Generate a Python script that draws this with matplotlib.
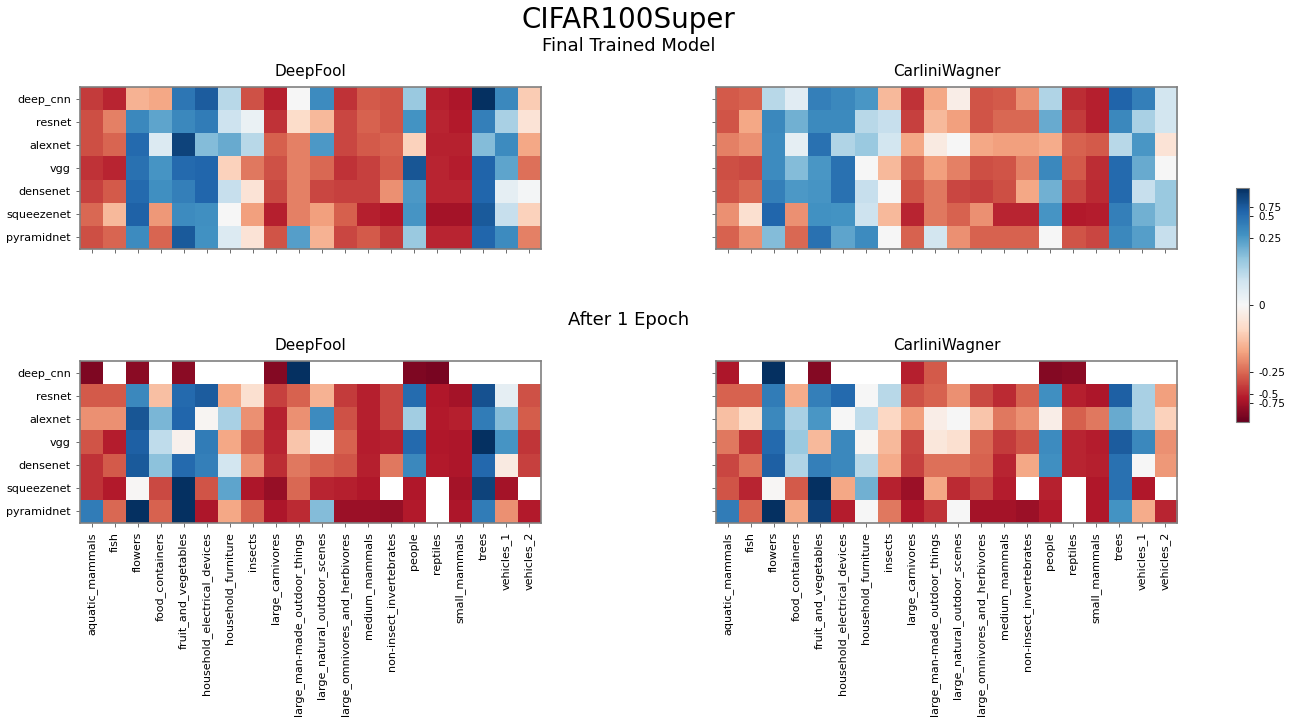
import numpy as np
import matplotlib
matplotlib.use("Agg")
import matplotlib.pyplot as plt
from matplotlib.colors import Normalize

nan = np.nan

models = ["deep_cnn", "resnet", "alexnet", "vgg", "densenet", "squeezenet", "pyramidnet"]
classes = ["aquatic_mammals", "fish", "flowers", "food_containers", "fruit_and_vegetables",
           "household_electrical_devices", "household_furniture", "insects", "large_carnivores",
           "large_man-made_outdoor_things", "large_natural_outdoor_scenes",
           "large_omnivores_and_herbivores", "medium_mammals", "non-insect_invertebrates",
           "people", "reptiles", "small_mammals", "trees", "vehicles_1", "vehicles_2"]

final_deepfool = [
    [-0.42, -0.50, -0.15, -0.17, 0.45, 0.72, 0.12, -0.33, -0.55, 0.00, 0.32, -0.45, -0.30, -0.32, 0.16, -0.55, -0.65, 1.00, 0.35, -0.11],
    [-0.35, -0.22, 0.35, 0.23, 0.35, 0.42, 0.09, 0.03, -0.45, -0.08, -0.14, -0.38, -0.27, -0.32, 0.28, -0.50, -0.60, 0.40, 0.14, -0.06],
    [-0.35, -0.26, 0.55, 0.06, 0.88, 0.19, 0.22, 0.12, -0.28, -0.22, 0.25, -0.38, -0.30, -0.27, -0.10, -0.53, -0.52, 0.19, 0.32, -0.17],
    [-0.45, -0.50, 0.48, 0.27, 0.55, 0.60, -0.10, -0.23, -0.33, -0.22, -0.25, -0.45, -0.40, -0.30, 0.78, -0.50, -0.58, 0.62, 0.23, -0.24],
    [-0.40, -0.30, 0.55, 0.30, 0.40, 0.60, 0.10, -0.06, -0.37, -0.22, -0.38, -0.40, -0.40, -0.20, 0.25, -0.50, -0.50, 0.60, 0.04, 0.01],
    [-0.25, -0.14, 0.65, -0.19, 0.32, 0.30, 0.00, -0.18, -0.55, -0.22, -0.18, -0.28, -0.55, -0.63, 0.27, -0.72, -0.72, 0.75, 0.10, -0.10],
    [-0.35, -0.26, 0.32, -0.26, 0.75, 0.29, 0.06, -0.06, -0.32, 0.24, -0.15, -0.38, -0.30, -0.42, 0.16, -0.50, -0.50, 0.60, 0.32, -0.22],
]

final_carlini = [
    [-0.30, -0.27, 0.12, 0.05, 0.40, 0.35, 0.26, -0.14, -0.45, -0.17, -0.03, -0.32, -0.30, -0.20, 0.13, -0.47, -0.55, 0.62, 0.40, 0.08],
    [-0.32, -0.17, 0.35, 0.21, 0.33, 0.33, 0.12, 0.10, -0.40, -0.14, -0.18, -0.32, -0.25, -0.25, 0.22, -0.42, -0.55, 0.35, 0.14, 0.08],
    [-0.22, -0.20, 0.32, 0.04, 0.48, 0.13, 0.16, 0.08, -0.17, -0.04, 0.00, -0.17, -0.18, -0.18, -0.16, -0.27, -0.30, 0.12, 0.26, -0.06],
    [-0.34, -0.37, 0.32, 0.19, 0.26, 0.48, 0.00, -0.14, -0.25, -0.18, -0.22, -0.35, -0.32, -0.22, 0.35, -0.30, -0.47, 0.55, 0.22, 0.00],
    [-0.32, -0.25, 0.40, 0.25, 0.27, 0.48, 0.10, 0.00, -0.32, -0.23, -0.38, -0.40, -0.35, -0.17, 0.21, -0.38, -0.48, 0.55, 0.10, 0.16],
    [-0.20, -0.07, 0.60, -0.20, 0.29, 0.28, 0.09, -0.14, -0.50, -0.23, -0.27, -0.20, -0.50, -0.50, 0.27, -0.60, -0.58, 0.40, 0.21, 0.16],
    [-0.27, -0.20, 0.19, -0.25, 0.48, 0.23, 0.32, 0.00, -0.27, 0.08, -0.20, -0.27, -0.27, -0.27, 0.00, -0.32, -0.38, 0.35, 0.24, 0.10],
]

epoch1_deepfool = [
    [-0.90, nan, -0.85, nan, -0.85, nan, nan, nan, -0.87, 1.00, nan, nan, nan, nan, -0.90, -0.92, nan, nan, nan, nan],
    [-0.30, -0.30, 0.35, -0.13, 0.55, 0.72, -0.17, -0.07, -0.40, -0.27, -0.15, -0.42, -0.55, -0.38, 0.52, -0.62, -0.72, 0.80, 0.04, -0.33],
    [-0.20, -0.20, 0.78, 0.20, 0.60, -0.01, 0.14, -0.20, -0.53, -0.20, 0.32, -0.33, -0.55, -0.38, 0.15, -0.60, -0.55, 0.42, 0.19, -0.29],
    [-0.32, -0.57, 0.67, 0.11, -0.02, 0.42, -0.17, -0.27, -0.50, -0.12, 0.00, -0.27, -0.58, -0.52, 0.55, -0.62, -0.66, 1.00, 0.27, -0.44],
    [-0.45, -0.30, 0.75, 0.18, 0.55, 0.40, 0.08, -0.20, -0.47, -0.23, -0.27, -0.32, -0.55, -0.23, 0.35, -0.60, -0.66, 0.58, -0.04, -0.40],
    [-0.45, -0.60, -0.005, -0.37, 1.00, -0.32, 0.23, -0.66, -0.80, -0.25, -0.50, -0.55, -0.62, nan, -0.62, nan, -0.74, 0.88, -0.74, nan],
    [0.42, -0.25, 1.00, -0.27, 1.00, -0.66, -0.17, -0.27, -0.66, -0.48, 0.19, -0.78, -0.78, -0.80, -0.60, nan, -0.66, 0.42, -0.20, -0.60],
]

epoch1_carlini = [
    [-0.66, nan, 1.00, nan, -0.87, nan, nan, nan, -0.55, -0.30, nan, nan, nan, nan, -0.87, -0.85, nan, nan, nan, nan],
    [-0.27, -0.27, 0.42, -0.16, 0.40, 0.55, 0.00, 0.12, -0.33, -0.27, -0.20, -0.37, -0.48, -0.27, 0.30, -0.55, -0.66, 0.67, 0.14, -0.18],
    [-0.13, -0.08, 0.35, 0.14, 0.26, 0.00, 0.11, -0.09, -0.18, -0.03, 0.00, -0.12, -0.23, -0.20, -0.03, -0.28, -0.23, 0.22, 0.14, -0.10],
    [-0.23, -0.45, 0.55, 0.16, -0.14, 0.35, -0.01, -0.14, -0.38, -0.05, -0.07, -0.25, -0.42, -0.32, 0.32, -0.50, -0.57, 0.72, 0.35, -0.20],
    [-0.38, -0.24, 0.67, 0.13, 0.40, 0.35, 0.12, -0.16, -0.40, -0.24, -0.24, -0.27, -0.50, -0.17, 0.30, -0.50, -0.55, 0.48, 0.00, -0.19],
    [-0.32, -0.50, -0.005, -0.30, 1.00, -0.17, 0.21, -0.53, -0.78, -0.17, -0.48, -0.38, -0.57, nan, -0.53, nan, -0.62, 0.48, -0.62, nan],
    [0.42, -0.27, 1.00, -0.17, 0.90, -0.57, 0.00, -0.23, -0.64, -0.45, 0.00, -0.72, -0.72, -0.78, -0.60, nan, -0.62, 0.28, -0.16, -0.50],
]

cbar_ticks = [-0.75, -0.5, -0.25, 0, 0.25, 0.5, 0.75]
cbar_labels = ["-0.75", "-0.5", "-0.25", "0", "0.25", "0.5", "0.75"]

# colour scale control points (value -> colormap position)
norm_values = [-1.0, -0.75, -0.5, -0.25, 0.0, 0.25, 0.5, 0.75, 1.0]
norm_positions = [0.0, 0.081, 0.120, 0.213, 0.5, 0.787, 0.880, 0.919, 1.0]


class PiecewiseNorm(Normalize):
    def __init__(self, xp, fp):
        super().__init__(vmin=xp[0], vmax=xp[-1])
        self.xp = np.asarray(xp, float)
        self.fp = np.asarray(fp, float)

    def __call__(self, value, clip=None):
        arr = np.ma.asarray(value).astype(float).filled(np.nan)
        out = np.interp(arr, self.xp, self.fp)
        out = np.where(np.isnan(arr), np.nan, out)
        return np.ma.masked_invalid(out)

    def inverse(self, value):
        return np.interp(np.asarray(value, float), self.fp, self.xp)


norm = PiecewiseNorm(norm_values, norm_positions)

W, H = 1289, 717
fig = plt.figure(figsize=(W / 100, H / 100), dpi=100)


def px_axes(x0, y0, x1, y1):
    return fig.add_axes([x0 / W, 1 - y1 / H, (x1 - x0) / W, (y1 - y0) / H])


panels = [
    (final_deepfool, "DeepFool", (80, 87, 541, 249), True, False),
    (final_carlini, "CarliniWagner", (716, 87, 1177, 249), False, False),
    (epoch1_deepfool, "DeepFool", (80, 361, 541, 523), True, True),
    (epoch1_carlini, "CarliniWagner", (716, 361, 1177, 523), False, True),
]

im = None
for data, title, box, ylab, xlab in panels:
    ax = px_axes(*box)
    arr = np.array(data, dtype=float)
    im = ax.imshow(arr, cmap="RdBu", norm=norm, aspect="auto", interpolation="nearest")
    ax.set_title(title, fontsize=11, pad=8)
    ax.set_xticks(np.arange(len(classes)))
    ax.set_yticks(np.arange(len(models)))
    if xlab:
        ax.set_xticklabels(classes, rotation=90, fontsize=8)
    else:
        ax.set_xticklabels([])
    if ylab:
        ax.set_yticklabels(models, fontsize=8)
    else:
        ax.set_yticklabels([])
    ax.tick_params(length=3, width=0.6, color="#555555")
    for s in ax.spines.values():
        s.set_color("#808080")
        s.set_linewidth(1.2)

cax = px_axes(1236, 188, 1249, 422)
cb = fig.colorbar(im, cax=cax)
cb.set_ticks(cbar_ticks)
cb.set_ticklabels(cbar_labels)
cb.ax.tick_params(labelsize=7.5, length=3, width=0.6)
cb.outline.set_edgecolor("#808080")

cx = (80 + 1177) / 2 / W
fig.text(cx, 1 - 20 / H, "CIFAR100Super", ha="center", va="center", fontsize=20)
fig.text(cx, 1 - 46 / H, "Final Trained Model", ha="center", va="center", fontsize=13)
fig.text(cx, 1 - 320 / H, "After 1 Epoch", ha="center", va="center", fontsize=13)

fig.savefig("out.png", dpi=100)
